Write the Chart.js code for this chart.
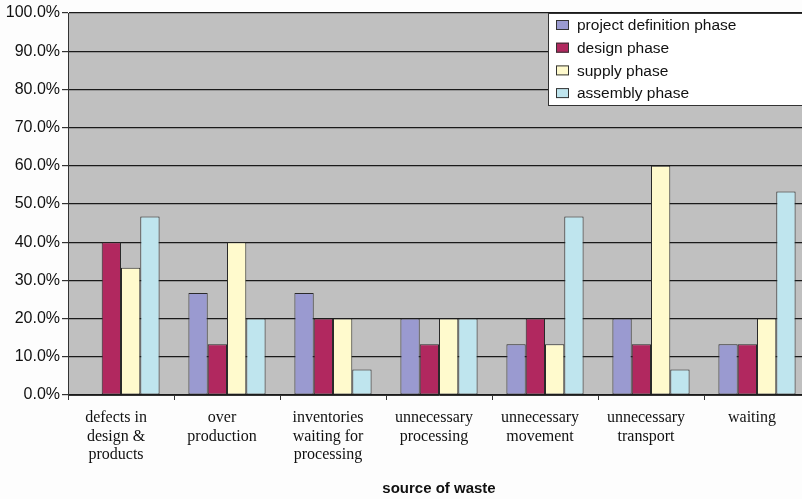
<!DOCTYPE html>
<html>
<head>
<meta charset="utf-8">
<script src="https://cdn.jsdelivr.net/npm/chart.js@4/dist/chart.umd.min.js"></script>
<style>
  html, body { margin: 0; padding: 0; background: #fdfdfd; overflow: hidden; }
  #wrap { width: 812px; height: 499px; }
</style>
</head>
<body>
<div id="wrap"><canvas id="c" width="812" height="499"></canvas></div>
<script>
// Sources of waste on the x axis
const categories = [
  ['defects in', 'design &', 'products'],
  ['over', 'production'],
  ['inventories', 'waiting for', 'processing'],
  ['unnecessary', 'processing'],
  ['unnecessary', 'movement'],
  ['unnecessary', 'transport'],
  ['waiting']
];

// Share of each waste source per project phase (%)
const phaseNames = ['project definition phase', 'design phase', 'supply phase', 'assembly phase'];
const projectDefinition = [0, 26.7, 26.7, 20, 13.3, 20, 13.3];
const designPhase       = [40, 13.3, 20, 13.3, 20, 13.3, 13.3];
const supplyPhase       = [33.3, 40, 20, 20, 13.3, 60, 20];
const assemblyPhase     = [46.7, 20, 6.7, 20, 46.7, 6.7, 53.3];

const yTicks = [0, 10, 20, 30, 40, 50, 60, 70, 80, 90, 100];
const phaseColors = ['#9a9ad0', '#b1285f', '#fffacd', '#bfe5ee'];

const seriesValues = [projectDefinition, designPhase, supplyPhase, assemblyPhase];

// Grey plot background
const plotBg = {
  id: 'plotBg',
  beforeDraw(chart) {
    const { ctx, chartArea: a } = chart;
    ctx.save();
    ctx.fillStyle = '#c0c0c0';
    ctx.fillRect(a.left, a.top, a.right - a.left, a.bottom - a.top);
    ctx.restore();
  }
};

// Boxed legend inside the plot's upper right corner
const boxLegend = {
  id: 'boxLegend',
  afterDraw(chart) {
    const { ctx } = chart;
    const x0 = 548, y0 = 13, x1 = 811, y1 = 105;
    ctx.save();
    ctx.fillStyle = '#ffffff';
    ctx.fillRect(x0, y0, x1 - x0, y1 - y0);
    ctx.strokeStyle = '#333333';
    ctx.lineWidth = 1;
    ctx.strokeRect(x0 + 0.5, y0 + 0.5, x1 - x0, y1 - y0);
    ctx.font = '15.5px "Liberation Sans", Arial, sans-serif';
    ctx.textBaseline = 'middle';
    chart.data.datasets.forEach((ds, i) => {
      const cy = 25 + i * 22.7;
      ctx.fillStyle = ds.backgroundColor;
      ctx.fillRect(556, cy - 5, 13, 10);
      ctx.strokeStyle = '#333333';
      ctx.strokeRect(556.5, cy - 4.5, 12, 9);
      ctx.fillStyle = '#111111';
      ctx.fillText(ds.label, 577, cy + 1);
    });
    ctx.restore();
  }
};

new Chart(document.getElementById('c'), {
  type: 'bar',
  data: {
    labels: categories,
    datasets: phaseNames.map((name, i) => ({
      label: name,
      data: seriesValues[i],
      backgroundColor: phaseColors[i],
      borderColor: '#2a2a2a',
      borderWidth: 1,
      borderSkipped: false,
      categoryPercentage: 0.728,
      barPercentage: 1.0
    }))
  },
  options: {
    responsive: false,
    animation: false,
    layout: { padding: { left: 0, top: 13, right: 2, bottom: 0 } },
    plugins: {
      legend: { display: false },
      tooltip: { enabled: false }
    },
    scales: {
      x: {
        offset: true,
        grid: {
          offset: true,
          drawOnChartArea: false,
          drawTicks: true,
          tickLength: 5,
          tickColor: '#333333'
        },
        border: { display: true, color: '#333333', width: 1 },
        ticks: {
          color: '#111111',
          maxRotation: 0,
          autoSkip: false,
          padding: 9,
          labelOffset: -5,
          font: { family: '"Liberation Serif", "Times New Roman", serif', size: 16, lineHeight: 1.15 }
        },
        title: {
          display: true,
          text: 'source of waste',
          color: '#111111',
          padding: { top: 0, bottom: 1 },
          font: { family: '"Liberation Sans", Arial, sans-serif', size: 15, weight: 'bold' }
        },
        afterFit(scale) { scale.height = 104; }
      },
      y: {
        min: 0,
        max: 100,
        afterBuildTicks(scale) { scale.ticks = yTicks.map(v => ({ value: v })); },
        grid: {
          color: '#1a1a1a',
          lineWidth: 1.2,
          drawTicks: true,
          tickLength: 6,
          tickColor: '#333333'
        },
        border: { display: true, color: '#333333', width: 1 },
        ticks: {
          color: '#111111',
          padding: 2,
          font: { family: '"Liberation Sans", Arial, sans-serif', size: 16 },
          callback: v => v.toFixed(1) + '%'
        },
        afterFit(scale) { scale.width = 68; }
      }
    }
  },
  plugins: [plotBg, boxLegend]
});
</script>
</body>
</html>
